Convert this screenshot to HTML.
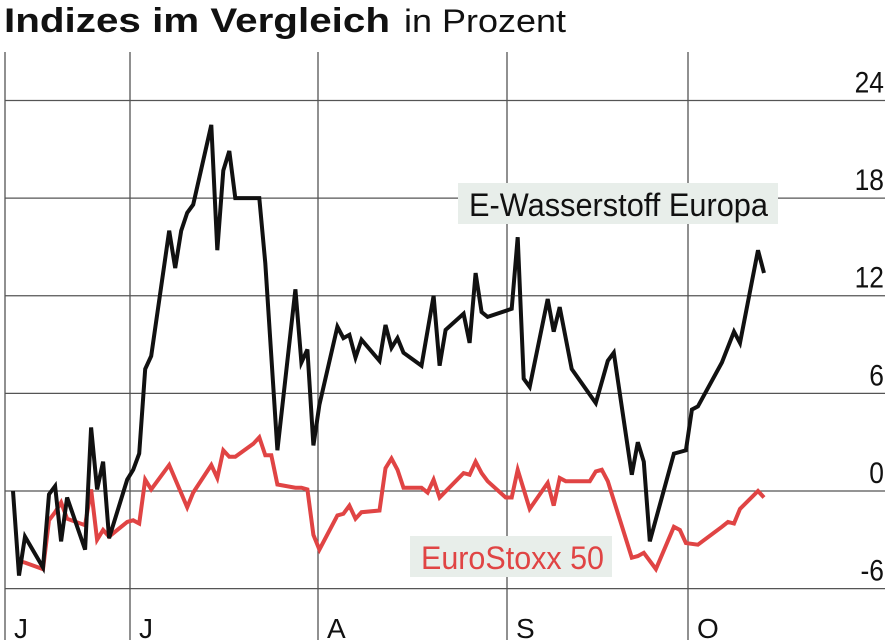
<!DOCTYPE html>
<html><head><meta charset="utf-8">
<style>
body{margin:0;background:#fff;width:890px;height:644px;overflow:hidden;font-family:"Liberation Sans",sans-serif}
svg{position:absolute;left:0;top:0}
</style></head>
<body>
<svg width="890" height="644">
<text x="4" y="32" font-size="34" font-weight="bold" fill="#111" textLength="386" lengthAdjust="spacingAndGlyphs">Indizes im Vergleich</text>
<text x="404" y="32" font-size="32" fill="#111" textLength="162" lengthAdjust="spacingAndGlyphs">in Prozent</text>
<g id="grid"></g>
<g id="lines"></g>
<rect x="458" y="183" width="320" height="41" fill="#e8eeea"/>
<text x="469" y="216" font-size="32" fill="#111" textLength="299" lengthAdjust="spacingAndGlyphs">E-Wasserstoff Europa</text>
<rect x="410" y="536" width="202" height="41" fill="#e8eeea"/>
<text x="421" y="569" font-size="32" fill="#e04444" textLength="183" lengthAdjust="spacingAndGlyphs">EuroStoxx 50</text>
</svg>
<script>
const yTicks=[24,18,12,6,0,-6];
const monthLabels=["J","J","A","S","O"];
const monthX=[5,130,318,507,688];
const blackDays=[0,1,2,5,6,7,8,9,12,13,14,15,16,19,20,21,22,23,26,27,28,29,30,33,34,35,36,37,41,42,44,47,48,49,50,51,54,55,56,57,58,61,62,63,64,65,68,70,71,72,75,76,77,78,79,83,84,85,86,89,90,91,93,97,98,99,100,103,104,105,106,110,111,112,113,114,118,120,121,124,125];
const blackValues=[0,-5.2,-2.8,-4.7,-0.2,0.3,-3.1,-0.4,-3.6,3.9,0.1,1.8,-2.9,0.7,1.3,2.3,7.5,8.3,16.0,13.7,16.0,17.1,17.6,22.5,14.8,19.7,20.9,18.0,18.0,14.0,2.5,12.4,7.9,8.7,2.8,5.3,10.1,9.4,9.6,8.2,9.3,8.0,10.2,8.8,9.4,8.5,7.7,12.0,7.7,9.9,10.9,9.1,13.4,11.0,10.7,11.2,15.6,6.9,6.4,11.8,9.8,11.3,7.5,5.4,6.7,8.0,8.5,1.0,3.0,1.8,-3.1,2.3,2.4,2.5,5.0,5.2,7.9,9.8,9.1,14.8,13.4];
const redDays=[1,2,5,6,7,8,9,12,13,14,15,16,19,20,21,22,23,26,29,30,33,34,35,36,37,40,41,42,43,44,47,48,49,50,51,54,55,56,57,58,61,62,63,64,65,68,69,70,71,75,76,77,78,79,82,83,84,86,89,90,91,92,95,96,97,98,99,103,104,105,107,110,111,112,114,118,119,120,121,124,125];
const redValues=[-4.3,-4.4,-4.8,-1.8,-1.3,-0.7,-1.7,-2.1,0.1,-3.0,-2.4,-2.8,-1.9,-1.8,-2.0,0.7,0.1,1.6,-1.0,-0.1,1.6,0.8,2.5,2.1,2.1,2.9,3.3,2.2,2.2,0.4,0.2,0.2,0.1,-2.7,-3.6,-1.5,-1.4,-0.9,-1.7,-1.3,-1.2,1.4,2.0,1.3,0.2,0.2,-0.1,0.7,-0.4,1.1,1.0,1.8,1.1,0.6,-0.4,-0.4,1.3,-1.1,0.5,-0.9,0.8,0.6,0.6,0.6,1.2,1.3,0.6,-4.1,-4.0,-3.8,-4.8,-2.2,-2.4,-3.2,-3.3,-2.2,-1.9,-2.0,-1.1,0.0,-0.4];
const NS="http://www.w3.org/2000/svg";
const yS=v=>491-v*16.27;
const xS=d=>13+d*6.008;
const grid=document.getElementById('grid');
yTicks.forEach(t=>{
 const l=document.createElementNS(NS,'line');
 l.setAttribute('x1',5);l.setAttribute('x2',885);l.setAttribute('y1',yS(t));l.setAttribute('y2',yS(t));
 l.setAttribute('stroke','#555');l.setAttribute('stroke-width','1.3');
 
 
 grid.appendChild(l);
 const tx=document.createElementNS(NS,'text');
 tx.setAttribute('x',884);tx.setAttribute('y',yS(t)-8);tx.setAttribute('text-anchor','end');
 tx.setAttribute('font-size','30');tx.setAttribute('fill','#111');
 tx.setAttribute('transform','translate(884,0) scale(0.88,1) translate(-884,0)');
 tx.textContent=t;
 
 
 grid.appendChild(tx);
});
monthX.forEach((x,i)=>{
 const l=document.createElementNS(NS,'line');
 l.setAttribute('x1',x);l.setAttribute('x2',x);l.setAttribute('y1',52);l.setAttribute('y2',640);
 l.setAttribute('stroke','#555');l.setAttribute('stroke-width','1.3');
 
 
 grid.appendChild(l);
 const tx=document.createElementNS(NS,'text');
 tx.setAttribute('x',x+9);tx.setAttribute('y',638);tx.setAttribute('font-size','28');tx.setAttribute('fill','#111');
 tx.textContent=monthLabels[i];
 
 
 grid.appendChild(tx);
});
const lines=document.getElementById('lines');
function draw(days,vals,color,name){
 const p=document.createElementNS(NS,'polyline');
 p.setAttribute('points',days.map((d,i)=>xS(d).toFixed(1)+','+yS(vals[i]).toFixed(1)).join(' '));
 p.setAttribute('fill','none');p.setAttribute('stroke',color);p.setAttribute('stroke-width','4');
 p.setAttribute('stroke-linejoin','miter');
 
 
 lines.appendChild(p);
}
draw(redDays,redValues,'#e04444','eurostoxx-line');
draw(blackDays,blackValues,'#111','wasserstoff-line');
</script>
</body></html>
